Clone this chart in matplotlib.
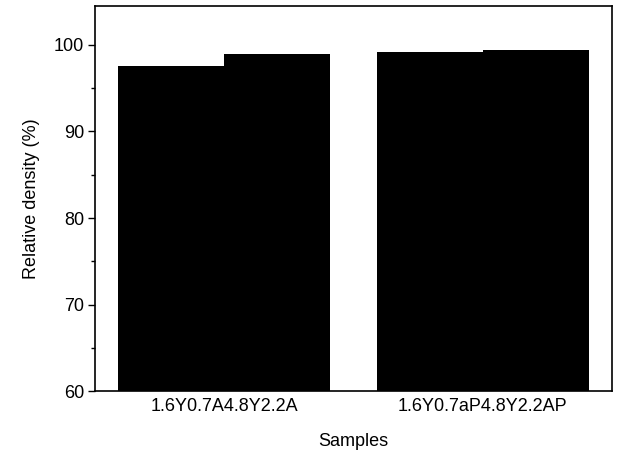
import matplotlib
matplotlib.use('Agg')
import matplotlib.pyplot as plt
from matplotlib.ticker import MultipleLocator

plt.rcParams['font.family'] = ['Liberation Sans', 'DejaVu Sans']

# relative density of each sample, two sintering routes per group
samples = ['1.6Y0.7A4.8Y2.2A', '1.6Y0.7aP4.8Y2.2AP']
route_a = [97.6, 99.2]
route_b = [99.0, 99.4]

base = 60
width = 0.41
x = [1, 2]

fig = plt.figure(figsize=(6.17, 4.58), dpi=100)
ax = fig.add_axes([0.154, 0.146, 0.838, 0.841])

ax.bar([p - width / 2 for p in x], [v - base for v in route_a], width,
       bottom=base, color='black', edgecolor='black', linewidth=0)
ax.bar([p + width / 2 for p in x], [v - base for v in route_b], width,
       bottom=base, color='black', edgecolor='black', linewidth=0)

ax.set_xlim(0.5, 2.5)
ax.set_ylim(60, 104.5)
ax.set_xticks(x)
ax.set_xticklabels(samples, fontsize=13)
ax.yaxis.set_major_locator(MultipleLocator(10))
ax.yaxis.set_minor_locator(MultipleLocator(5))
ax.tick_params(axis='y', which='major', direction='out', length=5, width=1, labelsize=13, pad=3)
ax.tick_params(axis='y', which='minor', direction='out', length=3, width=1)
ax.tick_params(axis='x', length=0, pad=5)

for s in ax.spines.values():
    s.set_linewidth(1.2)

ax.set_ylabel('Relative density (%)', fontsize=13, labelpad=10)
ax.set_xlabel('Samples', fontsize=13, labelpad=13)

fig.savefig('out.png', dpi=100)
